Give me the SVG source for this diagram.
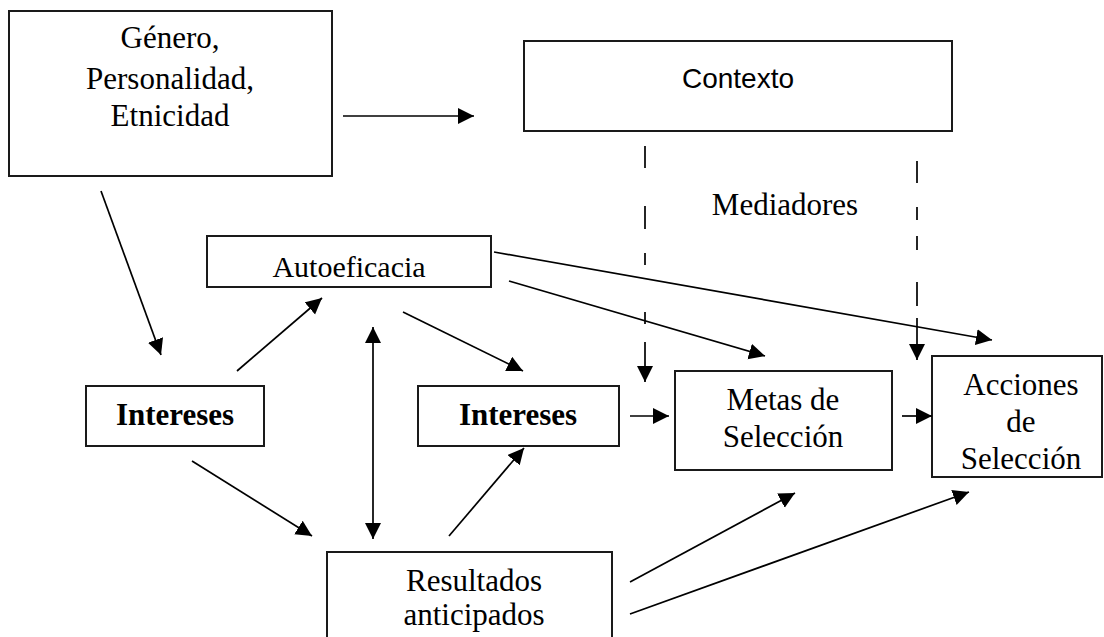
<svg xmlns="http://www.w3.org/2000/svg" width="1104" height="637" viewBox="0 0 1104 637">
<style>
.box{fill:#fff;stroke:#1a1a1a;stroke-width:2}
.t{font-family:"Liberation Serif","Times New Roman",serif;font-size:31px;fill:#000;text-anchor:middle}
.b{font-weight:bold}
.s{font-family:"Liberation Sans",Arial,sans-serif;font-size:28px;fill:#000;text-anchor:middle}
.c{stroke:#000;stroke-width:1.7;fill:none}
.a{marker-end:url(#ah)}
</style>
<defs>
<marker id="ah" markerUnits="userSpaceOnUse" markerWidth="18" markerHeight="18" viewBox="0 0 18 18" refX="16" refY="8" orient="auto-start-reverse">
<path d="M0,0 L16,8 L0,16 z" fill="#000"/>
</marker>
</defs>
<rect width="1104" height="637" fill="#fff"/>
<g id="genero">
<rect class="box" x="9" y="11" width="323" height="165"/>
<text class="t" x="170" y="48">Género,</text>
<text class="t" x="170" y="89">Personalidad,</text>
<text class="t" x="170" y="126">Etnicidad</text>
</g>
<g id="contexto">
<rect class="box" x="524" y="41" width="428" height="90"/>
<text class="s" x="738" y="88">Contexto</text>
</g>
<g id="mediadores">
<text class="t" x="785" y="215">Mediadores</text>
</g>
<g id="autoeficacia">
<rect class="box" x="207" y="236" width="284" height="51"/>
<text class="t" x="349" y="277" style="font-size:30px">Autoeficacia</text>
</g>
<g id="intereses1">
<rect class="box" x="86" y="386" width="178" height="60"/>
<text class="t b" x="175" y="425">Intereses</text>
</g>
<g id="intereses2">
<rect class="box" x="418" y="386" width="201" height="60"/>
<text class="t b" x="518" y="425">Intereses</text>
</g>
<g id="metas">
<rect class="box" x="675" y="371" width="217" height="99"/>
<text class="t" x="783" y="410">Metas de</text>
<text class="t" x="783" y="447">Selección</text>
</g>
<g id="acciones">
<rect class="box" x="932" y="356" width="170" height="121"/>
<text class="t" x="1021" y="395">Acciones</text>
<text class="t" x="1021" y="432">de</text>
<text class="t" x="1021" y="469">Selección</text>
</g>
<g id="resultados">
<rect class="box" x="327" y="552" width="285" height="100"/>
<text class="t" x="474" y="591">Resultados</text>
<text class="t" x="474" y="625">anticipados</text>
</g>
<g id="connectors">
<line class="c a" x1="343" y1="116" x2="474" y2="116"/>
<line class="c a" x1="101" y1="191" x2="161" y2="355"/>
<line class="c a" x1="237" y1="371" x2="322" y2="298"/>
<line class="c a" x1="192" y1="461" x2="312" y2="536"/>
<line class="c a" style="marker-start:url(#ah)" x1="373" y1="327" x2="373" y2="539"/>
<line class="c a" x1="403" y1="312" x2="523" y2="371"/>
<line class="c a" x1="449" y1="536" x2="524" y2="448"/>
<line class="c a" x1="630" y1="416" x2="669" y2="416"/>
<line class="c a" x1="902" y1="416" x2="932" y2="416"/>
<line class="c a" x1="509" y1="281" x2="765" y2="356"/>
<line class="c a" x1="494" y1="252" x2="992" y2="340"/>
<line class="c a" x1="630" y1="582" x2="795" y2="493"/>
<line class="c a" x1="630" y1="614" x2="969" y2="492"/>
<line class="c" x1="645" y1="146" x2="645" y2="342" stroke-dasharray="22 38 23 24 12 47 12 200"/>
<line class="c a" x1="645" y1="342" x2="645" y2="382"/>
<line class="c" x1="917" y1="161" x2="917" y2="318" stroke-dasharray="22 24 13 16 14 32 24 200"/>
<line class="c a" x1="917" y1="318" x2="917" y2="360"/>
</g>
</svg>
